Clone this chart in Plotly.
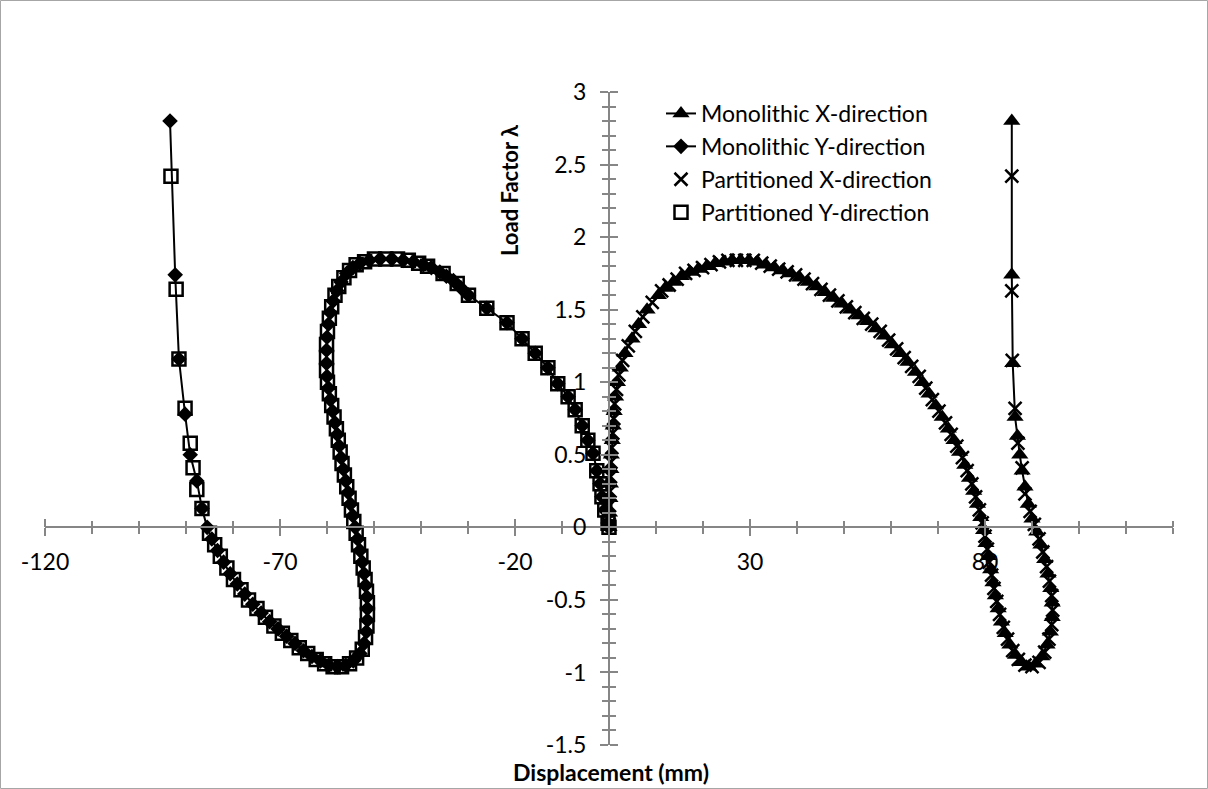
import plotly.graph_objects as go

# ---------------- data ----------------
mx_disp = [0.0, 0.1, 0.2, 0.3, 0.4, 0.5, 0.7, 0.9, 1.1, 1.4, 1.8, 2.4, 3.4, 4.9, 6.3, 8.1, 10.5,
           12.0, 13.7, 15.4, 17.2, 19.0, 20.8, 22.6, 24.4, 26.2, 28.0, 29.8, 31.6, 33.4, 35.2, 37.0,
           38.8, 40.6, 42.4, 44.2, 46.0, 47.8, 49.6, 51.4, 53.2, 55.0, 56.8, 58.6, 60.3, 62.0, 63.6,
           65.2, 66.7, 68.1, 69.5, 70.9, 72.2, 73.4, 74.6, 75.7, 76.7, 77.6, 78.4, 79.1, 79.7, 80.2,
           80.7, 81.2, 81.7, 82.2, 82.8, 83.5, 84.3, 85.3, 86.5, 87.8, 89.3, 90.8, 92.1, 93.2, 93.9,
           94.3, 94.3, 94.0, 93.4, 92.7, 91.9, 91.0, 90.0, 89.2, 88.5, 87.9, 87.4, 86.9, 86.4, 85.9,
           85.7, 85.7]
mx_load = [0.00, 0.10, 0.20, 0.30, 0.40, 0.50, 0.60, 0.70, 0.80, 0.90, 1.00, 1.10, 1.20, 1.30, 1.40, 1.50, 1.60,
           1.65, 1.69, 1.73, 1.76, 1.78, 1.80, 1.82, 1.83, 1.84, 1.84, 1.84, 1.83, 1.81, 1.79, 1.77,
           1.75, 1.72, 1.69, 1.66, 1.62, 1.58, 1.54, 1.50, 1.46, 1.42, 1.37, 1.32, 1.26, 1.20, 1.14,
           1.07, 1.00, 0.92, 0.84, 0.76, 0.68, 0.60, 0.52, 0.43, 0.34, 0.25, 0.16, 0.07, -0.02, -0.11,
           -0.20, -0.29, -0.38, -0.47, -0.56, -0.65, -0.73, -0.81, -0.88, -0.93, -0.96, -0.94, -0.89, -0.81, -0.72,
           -0.62, -0.52, -0.42, -0.32, -0.22, -0.12, -0.03, 0.06, 0.16, 0.28, 0.39, 0.50, 0.63, 0.76, 1.13,
           1.74, 2.80]

my_disp = [0.0, -0.2, -0.9, -1.5, -1.9, -2.6, -3.4, -4.5, -5.7, -7.2, -8.7, -10.9, -13.0, -15.7, -18.5,
           -21.7, -26.0, -29.9, -31.5, -33.1, -34.6, -36.0, -37.8, -39.5, -41.6, -43.8, -46.2, -48.7,
           -51.0, -53.0, -54.5, -55.8, -57.0, -57.9, -58.7, -59.3, -59.7, -60.0, -60.1, -60.1, -60.0,
           -59.7, -59.3, -58.8, -58.3, -57.8, -57.4, -57.0, -56.5, -56.0, -55.5, -55.0, -54.5, -54.0,
           -53.5, -53.0, -52.5, -52.1, -51.8, -51.5, -51.4, -51.4, -51.6, -52.1, -53.0, -54.4, -56.0,
           -57.8, -59.6, -61.4, -63.2, -65.0, -66.8, -68.6, -70.4, -72.2, -74.0, -75.8, -77.5, -79.1,
           -80.6, -82.0, -83.3, -84.5, -85.5, -86.6, -87.7, -89.1, -90.2, -91.5, -92.3, -93.4]
my_load = [0.00, 0.03, 0.12, 0.21, 0.30, 0.39, 0.51, 0.60, 0.70, 0.81, 0.90, 0.99, 1.10, 1.20, 1.30,
           1.41, 1.51, 1.60, 1.65, 1.70, 1.73, 1.76, 1.79, 1.81, 1.83, 1.84, 1.85, 1.85,
           1.84, 1.82, 1.79, 1.75, 1.69, 1.63, 1.56, 1.48, 1.40, 1.31, 1.22, 1.13, 1.04,
           0.96, 0.88, 0.80, 0.72, 0.64, 0.56, 0.48, 0.40, 0.32, 0.24, 0.16, 0.08, 0.00,
           -0.08, -0.16, -0.24, -0.32, -0.40, -0.48, -0.56, -0.64, -0.72, -0.80, -0.87, -0.92, -0.95,
           -0.96, -0.95, -0.92, -0.89, -0.85, -0.80, -0.75, -0.70, -0.65, -0.59, -0.53, -0.46, -0.39,
           -0.32, -0.24, -0.16, -0.08, 0.00, 0.13, 0.32, 0.50, 0.78, 1.16, 1.74, 2.80]

px_disp = [0.0, 0.1, 0.2, 0.3, 0.4, 0.6, 0.8, 1.0, 1.2, 1.6, 2.1, 2.9, 4.1, 5.6, 7.2, 9.2, 11.2,
           12.8, 14.5, 16.3, 18.1, 19.9, 21.7, 23.5, 25.3, 27.1, 28.9, 30.7, 32.5, 34.3, 36.1, 37.9,
           39.7, 41.5, 43.3, 45.1, 46.9, 48.7, 50.5, 52.3, 54.1, 55.9, 57.7, 59.5, 61.2, 62.8, 64.4,
           66.0, 67.4, 68.8, 70.2, 71.6, 72.8, 74.0, 75.2, 76.2, 77.2, 78.0, 78.8, 79.4, 80.0, 80.5,
           80.9, 81.4, 81.9, 82.5, 83.1, 83.9, 84.8, 85.9, 87.1, 88.5, 90.0, 91.5, 92.7, 93.6, 94.2,
           94.4, 94.2, 93.7, 93.1, 92.3, 91.5, 90.5, 89.6, 88.5, 87.9, 87.0, 86.4, 85.8, 85.7, 85.7]
px_load = [0.02, 0.15, 0.25, 0.35, 0.45, 0.55, 0.65, 0.75, 0.85, 0.95, 1.05, 1.15, 1.25, 1.35, 1.45, 1.55, 1.63,
           1.67, 1.71, 1.75, 1.77, 1.79, 1.81, 1.83, 1.84, 1.84, 1.84, 1.84, 1.82, 1.80, 1.78, 1.76,
           1.74, 1.71, 1.68, 1.64, 1.60, 1.56, 1.52, 1.48, 1.44, 1.40, 1.35, 1.29, 1.23, 1.17, 1.11,
           1.04, 0.96, 0.88, 0.80, 0.72, 0.64, 0.56, 0.48, 0.39, 0.30, 0.21, 0.12, 0.03, -0.06, -0.15,
           -0.24, -0.33, -0.42, -0.51, -0.60, -0.69, -0.77, -0.85, -0.91, -0.95, -0.96, -0.93, -0.86, -0.77, -0.67,
           -0.57, -0.47, -0.37, -0.27, -0.17, -0.08, 0.02, 0.11, 0.23, 0.41, 0.58, 0.82, 1.15, 1.63, 2.42]

py_disp = [0.0, -0.2, -0.9, -1.5, -1.9, -2.6, -3.4, -4.5, -5.7, -7.2, -8.7, -10.9, -13.0, -15.7, -18.5,
           -21.7, -26.0, -29.9, -32.3, -35.3, -38.6, -40.5, -42.7, -45.0, -47.5, -49.9, -52.0, -53.8,
           -55.2, -56.4, -57.5, -58.3, -59.0, -59.5, -59.9, -60.1, -60.1, -60.1, -59.9, -59.5, -59.0,
           -58.5, -58.0, -57.6, -57.2, -56.8, -56.3, -55.8, -55.3, -54.8, -54.3, -53.8, -53.3, -52.8,
           -52.3, -51.9, -51.6, -51.4, -51.4, -51.5, -51.8, -52.5, -53.7, -55.2, -56.9, -58.7, -60.5,
           -62.3, -64.1, -65.9, -67.7, -69.5, -71.3, -73.1, -74.9, -76.7, -78.3, -79.9, -81.3, -82.7,
           -83.9, -85.0, -86.6, -87.7, -88.5, -89.1, -90.2, -91.5, -92.1, -93.2]
py_load = [0.00, 0.03, 0.12, 0.21, 0.30, 0.39, 0.51, 0.60, 0.70, 0.81, 0.90, 0.99, 1.10, 1.20, 1.30,
           1.41, 1.51, 1.60, 1.68, 1.75, 1.80, 1.82, 1.84, 1.85, 1.85, 1.85, 1.83, 1.81,
           1.77, 1.72, 1.66, 1.60, 1.52, 1.44, 1.35, 1.26, 1.17, 1.08, 1.00, 0.92, 0.84,
           0.76, 0.68, 0.60, 0.52, 0.44, 0.36, 0.28, 0.20, 0.12, 0.04, -0.04, -0.12, -0.20,
           -0.28, -0.36, -0.44, -0.52, -0.60, -0.68, -0.76, -0.84, -0.90, -0.94, -0.96, -0.96, -0.94,
           -0.91, -0.87, -0.83, -0.78, -0.73, -0.68, -0.62, -0.56, -0.50, -0.43, -0.36, -0.28, -0.20,
           -0.12, -0.04, 0.13, 0.26, 0.41, 0.58, 0.82, 1.16, 1.64, 2.42]

series_names = ["Monolithic X-direction", "Monolithic Y-direction",
                "Partitioned X-direction", "Partitioned Y-direction"]

x_tickvals = [-120, -70, -20, 30, 80]
x_ticktext = ["-120", "-70", "-20", "30", "80"]
y_tickvals = [-1.5, -1, -0.5, 0, 0.5, 1, 1.5, 2, 2.5, 3]
y_ticktext = ["-1.5", "-1", "-0.5", "0", "0.5", "1", "1.5", "2", "2.5", "3"]

x_title = "Displacement (mm)"
y_title = "Load Factor λ"

# ---------------- figure ----------------
FONT = "Lato"
AX = "#868686"
W, H = 1208, 789
ML, MR, MT, MB = 45, 35, 92, 44

fig = go.Figure()
fig.add_trace(go.Scatter(x=mx_disp, y=mx_load, mode="lines+markers", name=series_names[0],
                         line=dict(color="black", width=2),
                         marker=dict(symbol="triangle-up", size=15, color="black")))
fig.add_trace(go.Scatter(x=my_disp, y=my_load, mode="lines+markers", name=series_names[1],
                         line=dict(color="black", width=2),
                         marker=dict(symbol="diamond", size=12, color="black")))
fig.add_trace(go.Scatter(x=px_disp, y=px_load, mode="markers", name=series_names[2],
                         marker=dict(symbol="x-thin", size=13, color="black",
                                     line=dict(color="black", width=2.5))))
fig.add_trace(go.Scatter(x=py_disp, y=py_load, mode="markers", name=series_names[3],
                         marker=dict(symbol="square-open", size=13, color="black",
                                     line=dict(color="black", width=2.5))))
# empty helper trace so the second pair of tick-only axes is drawn (cross-style ticks)
fig.add_trace(go.Scatter(x=[None], y=[None], xaxis="x2", yaxis="y2", mode="markers",
                         showlegend=False, hoverinfo="skip"))

xr = [-120, 120]
yr = [-1.5, 3]
x_pos = (0 - yr[0]) / (yr[1] - yr[0])
y_pos = (0 - xr[0]) / (xr[1] - xr[0])

tickfont = dict(family=FONT, size=23, color="black")
minor_x = dict(tickmode="linear", tick0=-120, dtick=10, ticks="outside",
               ticklen=6, tickwidth=2, tickcolor=AX, showgrid=False)
minor_y = dict(tickmode="linear", tick0=0, dtick=0.1, ticks="outside",
               ticklen=6, tickwidth=2, tickcolor=AX, showgrid=False)

fig.update_layout(
    width=W, height=H,
    margin=dict(l=ML, r=MR, t=MT, b=MB),
    paper_bgcolor="white", plot_bgcolor="white",
    font=dict(family=FONT, color="black"),
    xaxis=dict(range=xr, tickmode="array", tickvals=x_tickvals, ticktext=x_ticktext,
               ticks="outside", ticklen=8, tickwidth=2, tickcolor=AX,
               showline=True, linecolor=AX, linewidth=2, showgrid=False, zeroline=False,
               anchor="free", position=x_pos, tickfont=tickfont, ticklabelstandoff=6,
               minor=minor_x),
    xaxis2=dict(range=xr, overlaying="x", side="top", tickmode="array", tickvals=x_tickvals,
                ticks="outside", ticklen=8, tickwidth=2, tickcolor=AX, showticklabels=False,
                showline=False, showgrid=False, zeroline=False, anchor="free", position=x_pos,
                minor=minor_x),
    yaxis=dict(range=yr, tickmode="array", tickvals=y_tickvals, ticktext=y_ticktext,
               ticks="outside", ticklen=8, tickwidth=2, tickcolor=AX,
               showline=True, linecolor=AX, linewidth=2, showgrid=False, zeroline=False,
               anchor="free", position=y_pos, tickfont=tickfont, ticklabelstandoff=9,
               minor=minor_y),
    yaxis2=dict(range=yr, overlaying="y", side="right", tickmode="array", tickvals=y_tickvals,
                ticks="outside", ticklen=8, tickwidth=2, tickcolor=AX, showticklabels=False,
                showline=False, showgrid=False, zeroline=False, anchor="free", position=y_pos,
                minor=minor_y),
    legend=dict(x=(661 - ML) / (W - ML - MR), y=1.0, xanchor="left", yanchor="top",
                bgcolor="rgba(0,0,0,0)", borderwidth=0,
                font=dict(family=FONT, size=23, color="black"), itemwidth=30),
    showlegend=True,
)

pw, ph = W - ML - MR, H - MT - MB
fig.add_annotation(text="<b>" + x_title + "</b>", xref="paper", yref="paper",
                   x=(611 - ML) / pw, y=(H - MB - 772) / ph, xanchor="center", yanchor="middle",
                   showarrow=False, font=dict(family=FONT, size=23, color="black"))
fig.add_annotation(text="<b>" + y_title + "</b>", xref="paper", yref="paper",
                   x=(509 - ML) / pw, y=(H - MB - 190) / ph, xanchor="center", yanchor="middle",
                   textangle=-90, showarrow=False, font=dict(family=FONT, size=22, color="black"))

# chart-area border
fig.add_shape(type="rect", xref="paper", yref="paper", layer="below",
              x0=(0.5 - ML) / pw, x1=(W - 0.5 - ML) / pw,
              y0=(H - MB - (H - 0.5)) / ph, y1=(H - MB - 0.5) / ph,
              line=dict(color="#a6a6a6", width=1))

fig.write_html("out.html")
